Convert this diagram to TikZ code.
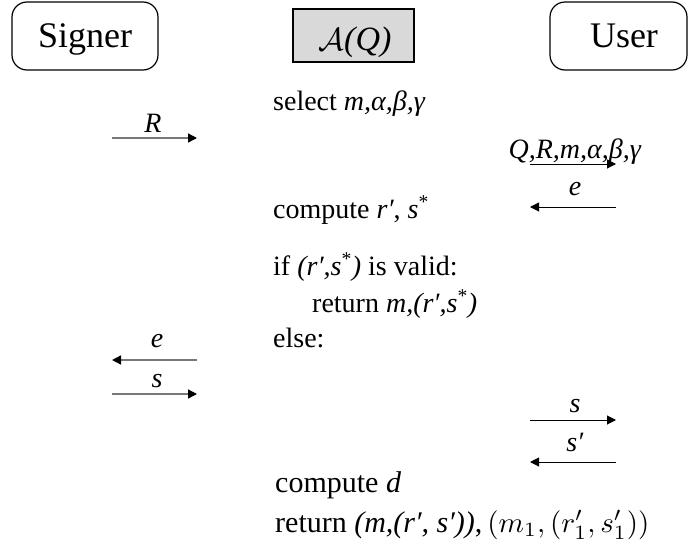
\documentclass[tikz,border=0pt]{standalone}
\usepackage{graphicx}
\usepackage{fontspec}
\setmainfont{Liberation Serif}
\usetikzlibrary{arrows.meta}
\definecolor{boxgray}{RGB}{217,217,217}
\definecolor{linegray}{RGB}{120,120,120}
\tikzset{
  hdrbox/.style={draw=black, line width=1.2pt, rounded corners=15pt, minimum width=146pt, minimum height=68pt, inner sep=0pt},
  hdrtext/.style={anchor=base, font=\fontsize{36}{40}\selectfont, inner sep=0pt},
  algbox/.style={draw=black, line width=1.5pt, fill=boxgray, minimum width=121pt, minimum height=53pt, inner sep=0pt},
  algtext/.style={anchor=base, inner sep=0pt, font=\fontsize{34}{38}\selectfont},
  bodytext/.style={anchor=base west, inner sep=0pt, font=\fontsize{28}{30}\selectfont},
  bigbody/.style={anchor=base west, inner sep=0pt, font=\fontsize{30}{32}\selectfont},
  msglabel/.style={anchor=base, inner sep=0pt, font=\fontsize{28}{30}\selectfont},
  sigarrow/.style={draw=linegray, line width=1.4pt, -{Triangle[black, length=9pt, width=9pt]}},
  usrarrow/.style={draw=black, line width=1pt, -{Triangle[black, length=9pt, width=9pt]}}
}
\begin{document}
\begin{tikzpicture}[x=1pt, y=-1pt]
\useasboundingbox (0,0) rectangle (688,544);
% headers
\node[hdrbox] (signerbox) at (85,36) {};
\node[hdrtext] (signer) at (85,47) {Signer};
\node[algbox] (algbox) at (353.5,35.5) {};
\node[algtext] (alg) at (355,50) {{\normalsize\scalebox{3.2}{$\mathcal{A}$}}\textit{(Q)}};
\node[hdrbox, minimum width=137pt] (userbox) at (618.5,36) {};
\node[hdrtext] (user) at (624,47) {User};
% algorithm text
\node[bodytext] (t1) at (273,110) {select \textit{m,α,β,γ}};
\node[bodytext] (t2) at (273,218) {compute \textit{r′}, \textit{s}\textsuperscript{*}};
\node[bodytext] (t3) at (273,275) {if \textit{(r′,s}\textsuperscript{*}\textit{)} is valid:};
\node[bodytext] (t4) at (312,312) {return \textit{m,(r′,s}\textsuperscript{*}\textit{)}};
\node[bodytext] (t5) at (273,347) {else:};
\node[bigbody] (t6) at (275,492) {compute \textit{d}};
\node[bigbody] (t7) at (275,532) {return \textit{(m,(r′, s′))},\,{\normalsize\scalebox{2.9}{$(m_1,(r_1',s_1'))$}}};
% arrow end points
\coordinate (a1) at (112,138); \coordinate (b1) at (197,138);
\coordinate (a2) at (530,164); \coordinate (b2) at (616,164);
\coordinate (a3) at (616,207); \coordinate (b3) at (530,207);
\coordinate (a4) at (197,360); \coordinate (b4) at (112,360);
\coordinate (a5) at (112,394); \coordinate (b5) at (197,394);
\coordinate (a6) at (530,420); \coordinate (b6) at (616,420);
\coordinate (a7) at (616,462); \coordinate (b7) at (530,462);
% labels
\node[msglabel] (l1) at (153,132) {\textit{R}};
\node[msglabel] (l2) at (575,158) {\textit{Q,R,m,α,β,γ}};
\node[msglabel] (l3) at (575,195) {\textit{e}};
\node[msglabel] (l4) at (157,347) {\textit{e}};
\node[msglabel] (l5) at (157,387) {\textit{s}};
\node[msglabel] (l6) at (575,412) {\textit{s}};
\node[msglabel] (l7) at (575,451) {\textit{s′}};
% arrows
\draw[sigarrow] (a1) -- (b1);
\draw[usrarrow] (a2) -- (b2);
\draw[usrarrow] (a3) -- (b3);
\draw[sigarrow] (a4) -- (b4);
\draw[sigarrow] (a5) -- (b5);
\draw[usrarrow] (a6) -- (b6);
\draw[usrarrow] (a7) -- (b7);
\end{tikzpicture}
\end{document}
